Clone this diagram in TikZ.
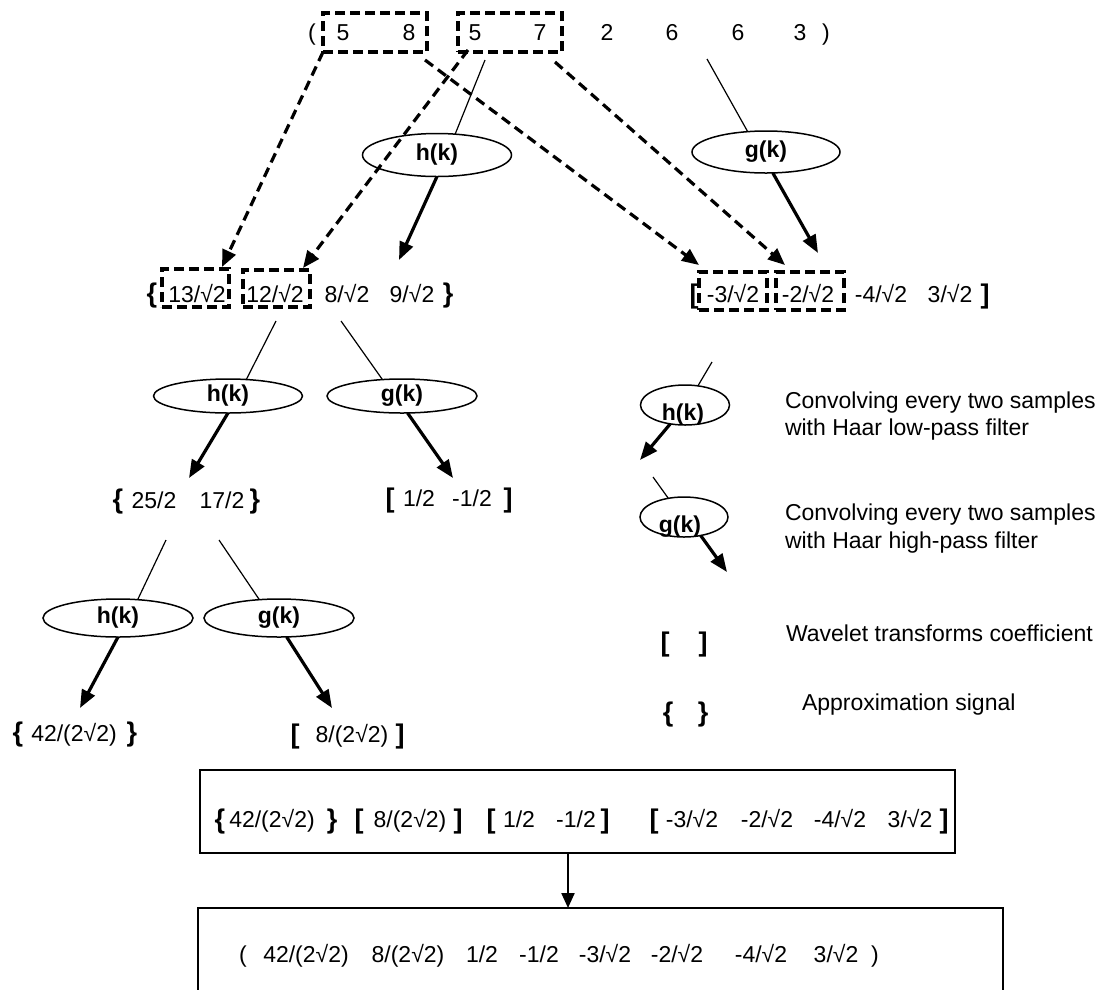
\documentclass[tikz,border=0pt]{standalone}
\usepackage{fontspec}
\setmainfont{Liberation Sans}
\usetikzlibrary{arrows.meta,calc,shapes.geometric}
\begin{document}
\begin{tikzpicture}[x=1pt,y=-1pt,
  every node/.style={inner sep=0pt, outer sep=0pt, font=\fontsize{23}{27}\selectfont},
  txt/.style={anchor=base},
  ltxt/.style={anchor=base west},
  brk/.style={anchor=base, font=\fontsize{27}{30}\selectfont\bfseries},
  ell/.style={draw, ellipse, line width=1.5pt, minimum width=149pt, font=\fontsize{23}{27}\selectfont\bfseries},
  lbl/.style={anchor=base, font=\fontsize{23}{27}\selectfont\bfseries},
  dbox/.style={draw, line width=3.2pt, dash pattern=on 10pt off 5pt},
  conn/.style={line width=1.2pt},
  tarr/.style={line width=3.2pt, -{Triangle[length=18pt,width=14pt]}},
  darr/.style={line width=3.2pt, dash pattern=on 10pt off 6pt, -{Triangle[length=17pt,width=14pt]}},
  barr/.style={line width=2.2pt, -{Triangle[length=15pt,width=13pt]}},
  framebox/.style={draw, line width=1.7pt}
]
\useasboundingbox (0,0) rectangle (1113,989);
\clip (0,0) rectangle (1113,989);
\fill[white] (0,0) rectangle (1113,989);

% ---- top row
\node[txt] (lp) at (312,40) {(};
\node[txt] (a1) at (343,40) {5};
\node[txt] (a2) at (409,40) {8};
\node[txt] (a3) at (475,40) {5};
\node[txt] (a4) at (540,40) {7};
\node[txt] (a5) at (607,40) {2};
\node[txt] (a6) at (672,40) {6};
\node[txt] (a7) at (738,40) {6};
\node[txt] (a8) at (800,40) {3};
\node[txt] (rp) at (826,40) {)};
\node[dbox, minimum width=104pt, minimum height=39pt] (tb1) at (375,32.5) {};
\node[dbox, minimum width=104pt, minimum height=39pt] (tb2) at (510,32.5) {};

% ---- first filters
\node[ell, minimum height=43pt] (h1) at (437,155) {h(k)};
\node[ell, minimum width=148pt, minimum height=42pt] (g1) at (766,152) {g(k)};

% ---- level 1 left
\node[brk] (lbo) at (152,302) {\{};
\node[txt] (l1) at (197,302) {13/√2};
\node[txt] (l2) at (275,302) {12/√2};
\node[txt] (l3) at (347,302) {8/√2};
\node[txt] (l4) at (412,302) {9/√2};
\node[brk] (lbc) at (448,302) {\}};
\node[dbox, minimum width=67pt, minimum height=38pt] (lb1) at (195.5,288) {};
\node[dbox, minimum width=67pt, minimum height=37pt] (lb2) at (276.5,288.5) {};

% ---- level 1 right
\node[brk] (rbo) at (694,303) {[};
\node[txt] (r1) at (733,302) {-3/√2};
\node[txt] (r2) at (808,302) {-2/√2};
\node[txt] (r3) at (881,302) {-4/√2};
\node[txt] (r4) at (950,302) {3/√2};
\node[brk] (rbc) at (985,303) {]};
\node[dbox, minimum width=68pt, minimum height=38pt] (rb1) at (733,291) {};
\node[dbox, minimum width=68pt, minimum height=38pt] (rb2) at (810,291) {};

% ---- level 2
\node[ell, minimum height=34pt] (h2) at (228,396) {h(k)};
\node[ell, minimum width=150pt, minimum height=34pt] (g2) at (402,396) {g(k)};
\node[brk] (m0) at (118,508) {\{};
\node[txt] (m1) at (154,508) {25/2};
\node[txt] (m2) at (222,508) {17/2};
\node[brk] (m3) at (255,508) {\}};
\node[brk] (n0) at (390,507) {[};
\node[txt] (n1) at (419,506) {1/2};
\node[txt] (n2) at (472,506) {-1/2};
\node[brk] (n3) at (508,507) {]};

% ---- level 3
\node[ell, minimum width=150pt, minimum height=38pt] (h3) at (118,618) {h(k)};
\node[ell, minimum width=150pt, minimum height=38pt] (g3) at (279,618) {g(k)};
\node[brk] (p0) at (18,741) {\{};
\node[txt] (p1) at (74,741) {42/(2√2)};
\node[brk] (p2) at (132,741) {\}};
\node[brk] (q0) at (295,743) {[};
\node[txt] (q1) at (352,742) {8/(2√2)};
\node[brk] (q2) at (400,743) {]};

% ---- legend
\node[draw, ellipse, line width=1.5pt, minimum width=89pt, minimum height=40pt] (hL) at (685,405) {};
\node[lbl] (hLt) at (683,420) {h(k)};
\node[draw, ellipse, line width=1.5pt, minimum width=88pt, minimum height=40pt] (gL) at (684,517) {};
\node[lbl] (gLt) at (680,532) {g(k)};
\node[ltxt] (t1) at (785,408) {Convolving every two samples};
\node[ltxt] (t2) at (785,435) {with Haar low-pass filter};
\node[ltxt] (t3) at (785,520) {Convolving every two samples};
\node[ltxt] (t4) at (785,548) {with Haar high-pass filter};
\node[brk] (lg1) at (665,651) {[};
\node[brk] (lg2) at (703,651) {]};
\node[ltxt] (t5) at (786,641) {Wavelet transforms coefficient};
\node[brk] (lg3) at (668,721) {\{};
\node[brk] (lg4) at (703,721) {\}};
\node[ltxt] (t6) at (802,710) {Approximation signal};

% ---- result boxes
\node[framebox, minimum width=755pt, minimum height=83pt] (box1) at (577.5,811.5) {};
\node[brk] (b1) at (220,828) {\{};
\node[txt] (b2) at (272,827) {42/(2√2)};
\node[brk] (b3) at (332,828) {\}};
\node[brk] (b4) at (359,828) {[};
\node[txt] (b5) at (410,827) {8/(2√2)};
\node[brk] (b6) at (458,828) {]};
\node[brk] (b7) at (491,828) {[};
\node[txt] (b8) at (519,827) {1/2};
\node[txt] (b9) at (576,827) {-1/2};
\node[brk] (b10) at (605,828) {]};
\node[brk] (b11) at (654,828) {[};
\node[txt] (b12) at (692,827) {-3/√2};
\node[txt] (b13) at (767,827) {-2/√2};
\node[txt] (b14) at (840,827) {-4/√2};
\node[txt] (b15) at (910,827) {3/√2};
\node[brk] (b16) at (944,828) {]};

\node[framebox, minimum width=805pt, minimum height=100pt] (box2) at (600.5,958) {};
\node[txt] (c0) at (243,962) {(};
\node[txt] (c1) at (306,962) {42/(2√2)};
\node[txt] (c2) at (408,962) {8/(2√2)};
\node[txt] (c3) at (482,962) {1/2};
\node[txt] (c4) at (539,962) {-1/2};
\node[txt] (c5) at (605,962) {-3/√2};
\node[txt] (c6) at (677,962) {-2/√2};
\node[txt] (c7) at (761,962) {-4/√2};
\node[txt] (c8) at (836,962) {3/√2};
\node[txt] (c9) at (875,962) {)};

% ---- free-end coordinates
\coordinate (sh1) at (485,60);
\coordinate (sg1) at (707,59);
\coordinate (eh1) at (399,260);
\coordinate (eg1) at (818,253);
\coordinate (sh2) at (276,321);
\coordinate (sg2) at (341,321);
\coordinate (eh2) at (189,478);
\coordinate (eg2) at (453,478);
\coordinate (sh3) at (166,540);
\coordinate (sg3) at (219,540);
\coordinate (eh3) at (80,708);
\coordinate (eg3) at (332,708);
\coordinate (shL) at (712,362);
\coordinate (ehL) at (640,460);
\coordinate (sgL) at (653,477);
\coordinate (egL) at (727,572);
\coordinate (ax) at (568,0);

% ---- connectors
\draw[conn] (sh1) -- (h1.49);
\draw[conn] (sg1) -- (g1.132);
\draw[tarr] (h1.south) -- (eh1);
\draw[tarr] (g1.-72) -- (eg1);

\draw[darr] (tb1.south west) -- ($(lb1.north east)+(-7,-2)$);
\draw[darr] ($(tb2.south west)+(10,-2)$) -- ($(lb2.north east)+(-7,-2)$);
\draw[darr] ($(tb1.south east)+(-2,8)$) -- ($(rb1.north west)+(0,-7)$);
\draw[darr] ($(tb2.south east)+(-7,10)$) -- ($(rb2.north west)+(9,-7)$);

\draw[conn] (sh2) -- (h2.42);
\draw[conn] (sg2) -- (g2.140);
\draw[tarr] (h2.south) -- (eh2);
\draw[tarr] (g2.-72) -- (eg2);

\draw[conn] (sh3) -- (h3.43);
\draw[conn] (sg3) -- (g3.137);
\draw[tarr] (h3.south) -- (eh3);
\draw[tarr] (g3.-68) -- (eg3);

\draw[conn] (shL) -- (hL.56);
\draw[tarr] (hL.-128) -- (ehL);
\draw[conn] (sgL) -- (gL.130);
\draw[tarr] (gL.-48) -- (egL);

\draw[barr] (box1.south -| ax) -- (box2.north -| ax);
\end{tikzpicture}
\end{document}
